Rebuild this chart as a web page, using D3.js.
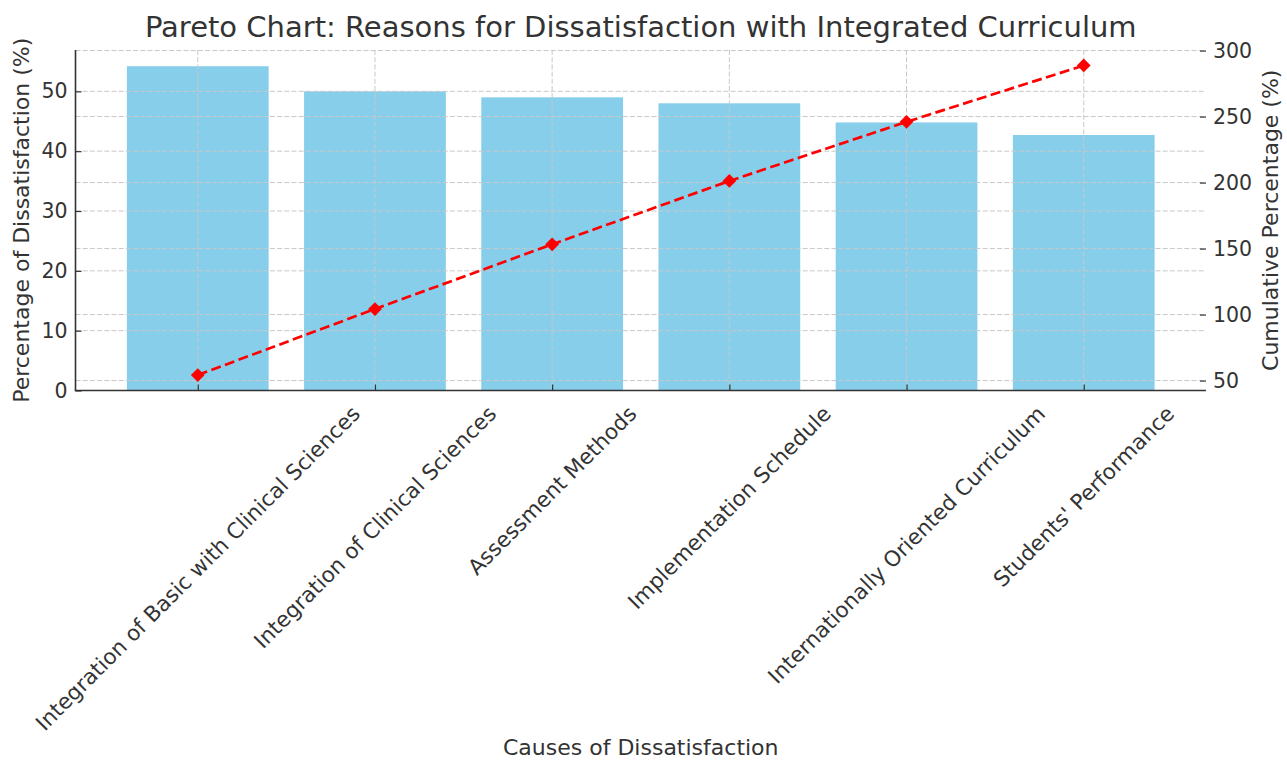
<!DOCTYPE html>
<html>
<head>
<meta charset="utf-8">
<script src="https://cdn.jsdelivr.net/npm/d3@7"></script>
<style>
  html, body { margin: 0; padding: 0; background: #fff; }
  svg { display: block; font-family: "DejaVu Sans", sans-serif; }
</style>
</head>
<body>
<svg id="chart" width="1287" height="761"></svg>
<script>
// Causes of dissatisfaction, sorted by share (Pareto order)
const causes = [
  "Integration of Basic with Clinical Sciences",
  "Integration of Clinical Sciences",
  "Assessment Methods",
  "Implementation Schedule",
  "Internationally Oriented Curriculum",
  "Students' Performance"
];
const dissatisfaction = [54.2, 50.0, 49.0, 48.0, 44.8, 42.7];
const cumulative = [54.2, 104.2, 153.2, 201.2, 246.0, 288.7];

const leftTicks = [0, 10, 20, 30, 40, 50];
const rightTicks = [50, 100, 150, 200, 250, 300];

const titleText = "Pareto Chart: Reasons for Dissatisfaction with Integrated Curriculum";
const xLabel = "Causes of Dissatisfaction";
const yLeftLabel = "Percentage of Dissatisfaction (%)";
const yRightLabel = "Cumulative Percentage (%)";

const svg = d3.select("#chart");
const plot = { left: 75.5, right: 1206, top: 50, bottom: 390.5 };
const textColor = "#333";
const gridColor = "#c8c8c8";
const tickFont = 20.5;
const catFont = 21.5;
const labelFont = 22;

const x = d3.scaleLinear().domain([-0.69, causes.length - 1 + 0.69]).range([plot.left, plot.right]);
const yL = d3.scaleLinear().domain([0, 54.2 * 1.05]).range([plot.bottom, plot.top]);
const cumSpan = 288.7 - 54.2;
const yR = d3.scaleLinear().domain([54.2 - 0.05 * cumSpan, 288.7 + 0.05 * cumSpan]).range([plot.bottom, plot.top]);
const barWidth = x(0.8) - x(0);

// bars
svg.append("g").selectAll("rect").data(dissatisfaction).join("rect")
  .attr("x", (d, i) => x(i - 0.4))
  .attr("width", barWidth)
  .attr("y", d => yL(d))
  .attr("height", d => yL(0) - yL(d))
  .attr("fill", "#87CEEB");

// grid (drawn over the bars)
const grid = svg.append("g")
  .attr("stroke", gridColor).attr("stroke-width", 1).attr("stroke-dasharray", "5,2.2");
grid.selectAll("line.gl").data(leftTicks).join("line").attr("class", "gl")
  .attr("x1", plot.left).attr("x2", plot.right)
  .attr("y1", d => yL(d)).attr("y2", d => yL(d));
grid.selectAll("line.gr").data(rightTicks).join("line").attr("class", "gr")
  .attr("x1", plot.left).attr("x2", plot.right)
  .attr("y1", d => yR(d)).attr("y2", d => yR(d));
grid.selectAll("line.gx").data(causes).join("line").attr("class", "gx")
  .attr("x1", (d, i) => x(i)).attr("x2", (d, i) => x(i))
  .attr("y1", plot.top).attr("y2", plot.bottom);

// left axis
const axisL = svg.append("g").attr("transform", `translate(${plot.left},0)`)
  .call(d3.axisLeft(yL).tickValues(leftTicks).tickSizeInner(-6).tickSizeOuter(0).tickPadding(8));
axisL.select(".domain").remove();
axisL.selectAll(".tick line").attr("stroke", textColor).attr("stroke-width", 1.2);
axisL.selectAll(".tick text").attr("font-size", tickFont).attr("fill", textColor)
  .attr("font-family", "DejaVu Sans");

// right axis
const axisR = svg.append("g").attr("transform", `translate(${plot.right},0)`)
  .call(d3.axisRight(yR).tickValues(rightTicks).tickSizeInner(-6).tickSizeOuter(0).tickPadding(7));
axisR.select(".domain").remove();
axisR.selectAll(".tick line").attr("stroke", textColor).attr("stroke-width", 1.2);
axisR.selectAll(".tick text").attr("font-size", tickFont).attr("fill", textColor)
  .attr("font-family", "DejaVu Sans");

// bottom axis ticks (inward)
const axisB = svg.append("g").attr("transform", `translate(0,${plot.bottom})`)
  .call(d3.axisBottom(x).tickValues(d3.range(causes.length)).tickSizeInner(-6).tickSizeOuter(0).tickFormat(""));
axisB.select(".domain").remove();
axisB.selectAll(".tick line").attr("stroke", textColor).attr("stroke-width", 1.2);

// rotated category labels, each centred under its tick
const lblTop = plot.bottom + 10.5;
const lineH = catFont * 1.17;
const lbls = svg.append("g").selectAll("text").data(causes).join("text")
  .attr("font-size", catFont).attr("fill", textColor)
  .attr("text-anchor", "middle").attr("dominant-baseline", "central")
  .text(d => d);
lbls.each(function (d, i) {
  const L = this.getComputedTextLength();
  const half = (L + lineH) / (2 * Math.SQRT2);
  const cx = x(i), cy = lblTop + half;
  d3.select(this).attr("x", cx).attr("y", cy)
    .attr("transform", `rotate(-45,${cx},${cy})`);
});

// spines
svg.append("line").attr("x1", plot.left).attr("x2", plot.left)
  .attr("y1", plot.top).attr("y2", plot.bottom)
  .attr("stroke", textColor).attr("stroke-width", 1.6);
svg.append("line").attr("x1", plot.left - 0.8).attr("x2", plot.right)
  .attr("y1", plot.bottom).attr("y2", plot.bottom)
  .attr("stroke", textColor).attr("stroke-width", 1.6);

// cumulative line with diamond markers
const line = d3.line().x((d, i) => x(i)).y(d => yR(d));
svg.append("path").datum(cumulative)
  .attr("d", line).attr("fill", "none")
  .attr("stroke", "#ff0000").attr("stroke-width", 2.7).attr("stroke-dasharray", "10,4.5");
svg.append("g").selectAll("path").data(cumulative).join("path")
  .attr("d", d3.symbol().type(d3.symbolSquare).size(95))
  .attr("fill", "#ff0000")
  .attr("transform", (d, i) => `translate(${x(i)},${yR(d)}) rotate(45)`);

// titles
svg.append("text").attr("x", (plot.left + plot.right) / 2).attr("y", 37)
  .attr("text-anchor", "middle").attr("font-size", 29).attr("fill", textColor)
  .text(titleText);
svg.append("text").attr("x", (plot.left + plot.right) / 2).attr("y", 755)
  .attr("text-anchor", "middle").attr("font-size", labelFont).attr("fill", textColor)
  .text(xLabel);
svg.append("text")
  .attr("transform", `translate(29,${(plot.top + plot.bottom) / 2}) rotate(-90)`)
  .attr("text-anchor", "middle").attr("font-size", labelFont).attr("fill", textColor)
  .text(yLeftLabel);
svg.append("text")
  .attr("transform", `translate(1278,${(plot.top + plot.bottom) / 2}) rotate(-90)`)
  .attr("text-anchor", "middle").attr("font-size", labelFont).attr("fill", textColor)
  .text(yRightLabel);
</script>
</body>
</html>
